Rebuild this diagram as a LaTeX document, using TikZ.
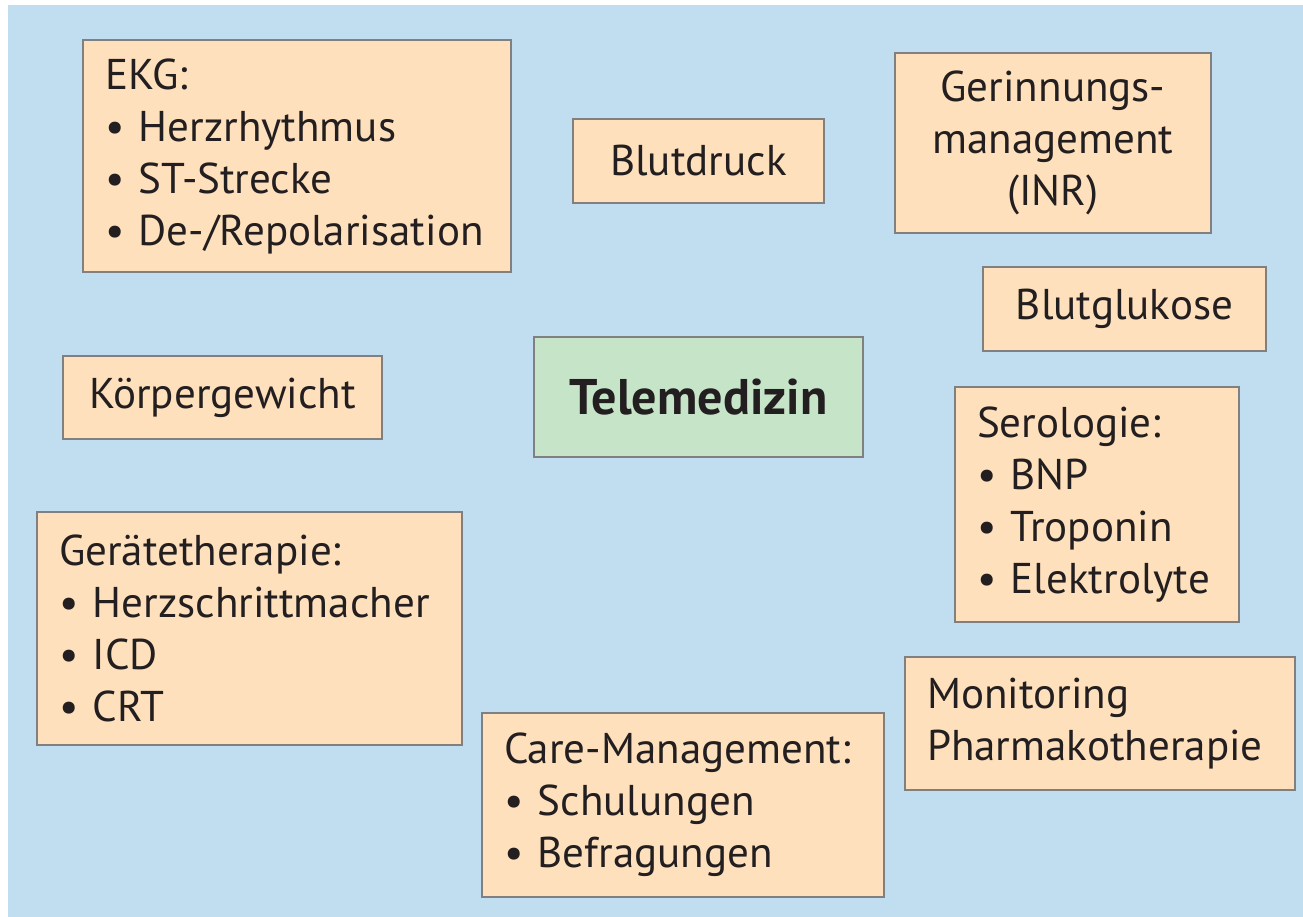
\documentclass[tikz,border=0pt]{standalone}
\usepackage{fontspec}
\setmainfont{PT Sans}
\definecolor{bgblue}{RGB}{192,222,239}
\definecolor{peach}{RGB}{254,224,189}
\definecolor{mint}{RGB}{198,228,200}
\definecolor{frame}{RGB}{128,128,128}
\definecolor{ink}{RGB}{35,31,32}
\begin{document}
\begin{tikzpicture}[x=0.02cm, y=-0.02cm]
			\tikzstyle{item}  = [rectangle, draw=frame, line width=1.6pt, fill=peach, text=ink, inner xsep=0.44cm, inner ysep=0pt, font=\fontsize{24.5}{29.6}\selectfont]
			\tikzstyle{hub}   = [item, fill=mint, font=\fontsize{28.5}{32}\selectfont\bfseries]

			\useasboundingbox (0,0) rectangle (1303,917);
			\fill[bgblue] (8,5) rectangle (1303,917);

%			single-line boxes
			\foreach \name/\x/\y/\w/\h/\text in {blutdruck/698.5/161/5.02/1.68/Blutdruck, glukose/1124.5/309/5.66/1.68/Blutglukose, gewicht/222.5/397.5/6.38/1.66/Körpergewicht}
				\node[item, minimum width=\w cm, minimum height=\h cm] (\name) at (\x, \y) {\text};

			\node[hub, minimum width=6.58cm, minimum height=2.4cm] (tele) at (698.5, 397) {Telemedizin};

			\node[item, text width=7.68cm, minimum height=4.64cm, align=left] (ekg) at (297, 156)
				{EKG:\\ \textbullet\ Herzrhythmus\\ \textbullet\ ST-Strecke\\ \textbullet\ De-/Repolarisation};
			\node[item, text width=5.44cm, minimum height=3.6cm, align=center] (inr) at (1053, 143)
				{Gerinnungs-\\management\\(INR)};
			\node[item, text width=4.8cm, minimum height=4.7cm, align=left] (sero) at (1097, 504.5)
				{Serologie:\\ \textbullet\ BNP\\ \textbullet\ Troponin\\ \textbullet\ Elektrolyte};
			\node[item, text width=7.62cm, minimum height=4.66cm, align=left] (geraete) at (249.5, 628.5)
				{Gerätetherapie:\\ \textbullet\ Herzschrittmacher\\ \textbullet\ ICD\\ \textbullet\ CRT};
			\node[item, text width=6.92cm, minimum height=2.66cm, align=left] (pharma) at (1100, 723.5)
				{Monitoring\\Pharmakotherapie};
			\node[item, text width=7.16cm, minimum height=3.68cm, align=left] (care) at (683, 805)
				{Care-Management:\\ \textbullet\ Schulungen\\ \textbullet\ Befragungen};

		\end{tikzpicture}
\end{document}
